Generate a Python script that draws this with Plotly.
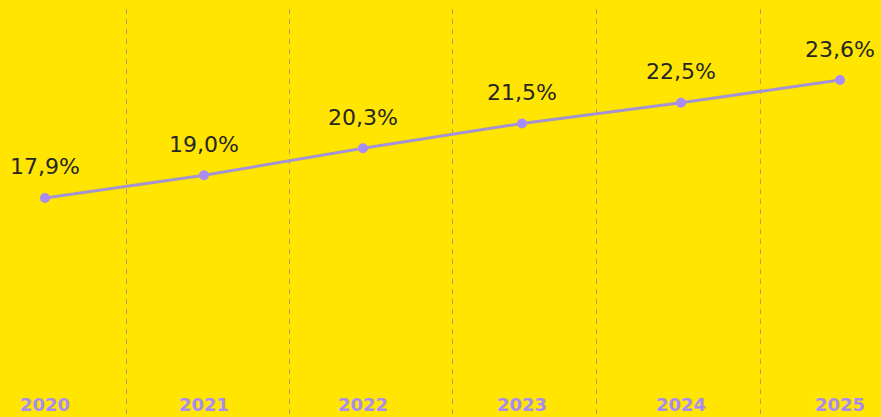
import plotly.graph_objects as go

years = ["2020", "2021", "2022", "2023", "2024", "2025"]
values = [17.9, 19.0, 20.3, 21.5, 22.5, 23.6]
divider_positions = [0.51, 1.54, 2.56, 3.47, 4.50]

BG = "#FFE500"
PURPLE = "#A98CF3"
TEXT = "#262626"

xs = list(range(len(years)))
labels = [f"{v:.1f}".replace(".", ",") + "%" for v in values]

fig = go.Figure()
fig.add_trace(go.Scatter(
    x=xs, y=values, mode="lines", line=dict(color="#a39ab8", width=3),
    hoverinfo="skip", showlegend=False))
fig.add_trace(go.Scatter(
    x=xs, y=values, mode="lines+markers",
    line=dict(color=PURPLE, width=1.2),
    marker=dict(color=PURPLE, size=10),
    showlegend=False))

for x, y, t in zip(xs, values, labels):
    fig.add_annotation(x=x, y=y, text=t, showarrow=False, yanchor="middle",
                       yshift=31, font=dict(family="DejaVu Sans, sans-serif", size=22, color=TEXT))

for x, yr in zip(xs, years):
    fig.add_annotation(x=x, xref="x", y=0, yref="paper", text=f"<b>{yr}</b>",
                       showarrow=False, yanchor="bottom",
                       font=dict(family="DejaVu Sans, sans-serif", size=18, color=PURPLE))

fig.update_layout(
    width=881, height=417,
    margin=dict(l=0, r=0, t=9, b=0),
    paper_bgcolor=BG, plot_bgcolor=BG,
    xaxis=dict(range=[-0.283, 5.258], tickvals=divider_positions, showticklabels=False,
               showgrid=True, gridcolor="#a8a070", gridwidth=1, griddash="5px,5px",
               zeroline=False, showline=False, fixedrange=True),
    yaxis=dict(range=[7.32, 27.03], showgrid=False, zeroline=False, showticklabels=False,
               showline=False, fixedrange=True),
)

fig.write_html("out.html", config={"displayModeBar": False},
               post_script="document.body.style.margin='0';document.body.style.background='#FFE500';")
